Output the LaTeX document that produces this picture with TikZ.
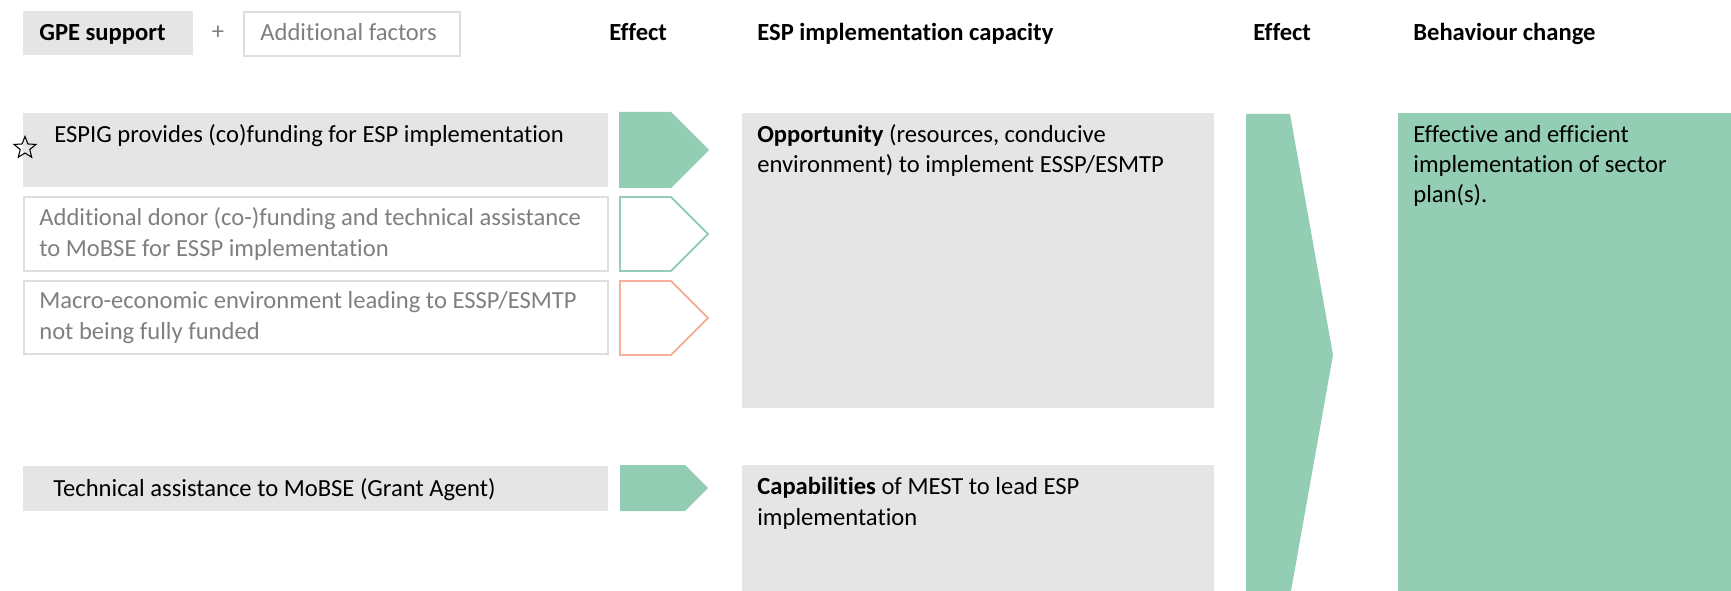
\documentclass[tikz,border=0pt]{standalone}
\usepackage{fontspec}
\setmainfont{Carlito}[Ligatures=NoCommon]
\usetikzlibrary{fit,shapes.geometric}
\definecolor{boxgray}{RGB}{229,229,229}
\definecolor{linegray}{RGB}{222,222,222}
\definecolor{textgray}{RGB}{127,127,127}
\definecolor{effgreen}{RGB}{146,205,180}
\definecolor{effred}{RGB}{246,176,154}

\begin{document}
\begin{tikzpicture}[x=0.02cm, y=-0.02cm,
		every node/.style={font=\fontsize{14}{17.1}\selectfont},
		graybox/.style={fill=boxgray, inner sep=0pt},
		openbox/.style={draw=linegray, line width=1.1pt, inner sep=0pt},
		greenbox/.style={fill=effgreen, inner sep=0pt},
		txt/.style={anchor=base west, align=left, inner sep=0pt},
		head/.style={txt, font=\fontsize{14}{17.1}\selectfont\bfseries},
		gaintxt/.style={txt, text=textgray},
		effect/.style={fill=effgreen},
		effectline/.style={draw=effgreen, line width=1.1pt},
		riskline/.style={draw=effred, line width=1.1pt}]
	\useasboundingbox (0,0) rectangle (1731,591);
	% header row
	\node[graybox, fit={(23,11) (193,55)}] (gpe) {};
	\node[head] (gpetxt) at (39,41) {GPE support};
	\node[text=textgray] (plus) at (218,33) {+};
	\node[openbox, fit={(244,12) (460,56)}] (addf) {};
	\node[gaintxt] (addftxt) at (260,41) {Additional factors};
	\node[head] (eff1) at (609,41) {Effect};
	\node[head] (cap) at (757,41) {ESP implementation capacity};
	\node[head] (eff2) at (1253,41) {Effect};
	\node[head] (beh) at (1413,41) {Behaviour change};
	% left column (multi-line texts sit on their last baseline)
	\node[graybox, fit={(23,113) (608,187)}] (espig) {};
	\node[txt] (espigtxt) at (54,143) {ESPIG provides (co)funding for ESP implementation};
	\node[star, star points=5, star point ratio=2.3, draw, line width=0.6pt, minimum size=0.46cm, inner sep=0pt] (star) at (25,148) {};
	\node[openbox, fit={(24,197) (608,271)}] (donor) {};
	\node[gaintxt] (donortxt) at (39,256) {Additional donor (co-)funding and technical assistance\\to MoBSE for ESSP implementation};
	\node[openbox, fit={(24,281) (608,354)}] (macro) {};
	\node[gaintxt] (macrotxt) at (39,339) {Macro-economic environment leading to ESSP/ESMTP\\not being fully funded};
	\node[graybox, fit={(23,466) (608,511)}] (ta) {};
	\node[txt] (tatxt) at (53,496) {Technical assistance to MoBSE (Grant Agent)};
	% effect arrows
	\fill[effect] (619,112) -- (671,112) -- (709,150) -- (671,188) -- (619,188) -- cycle;
	\draw[effectline] (620,197) -- (671,197) -- (708,234) -- (671,271) -- (620,271) -- cycle;
	\draw[riskline] (620,281) -- (671,281) -- (708,318) -- (671,355) -- (620,355) -- cycle;
	\fill[effect] (620,465) -- (685,465) -- (708,488) -- (685,511) -- (620,511) -- cycle;
	% capacity column
	\node[graybox, fit={(742,113) (1214,408)}] (opp) {};
	\node[txt] (opptxt) at (757,173) {\textbf{Opportunity} (resources, conducive\\environment) to implement ESSP/ESMTP};
	\node[graybox, fit={(742,465) (1214,591)}] (capab) {};
	\node[txt] (capabtxt) at (757,525) {\textbf{Capabilities} of MEST to lead ESP\\implementation};
	% big effect arrow
	\fill[effect] (1246,114) -- (1290,114) -- (1333,355) -- (1291,591) -- (1246,591) -- cycle;
	% behaviour change
	\node[greenbox, fit={(1398,113) (1731,591)}] (change) {};
	\node[txt] (changetxt) at (1413,203) {Effective and efficient\\implementation of sector\\plan(s).};
\end{tikzpicture}
\end{document}
